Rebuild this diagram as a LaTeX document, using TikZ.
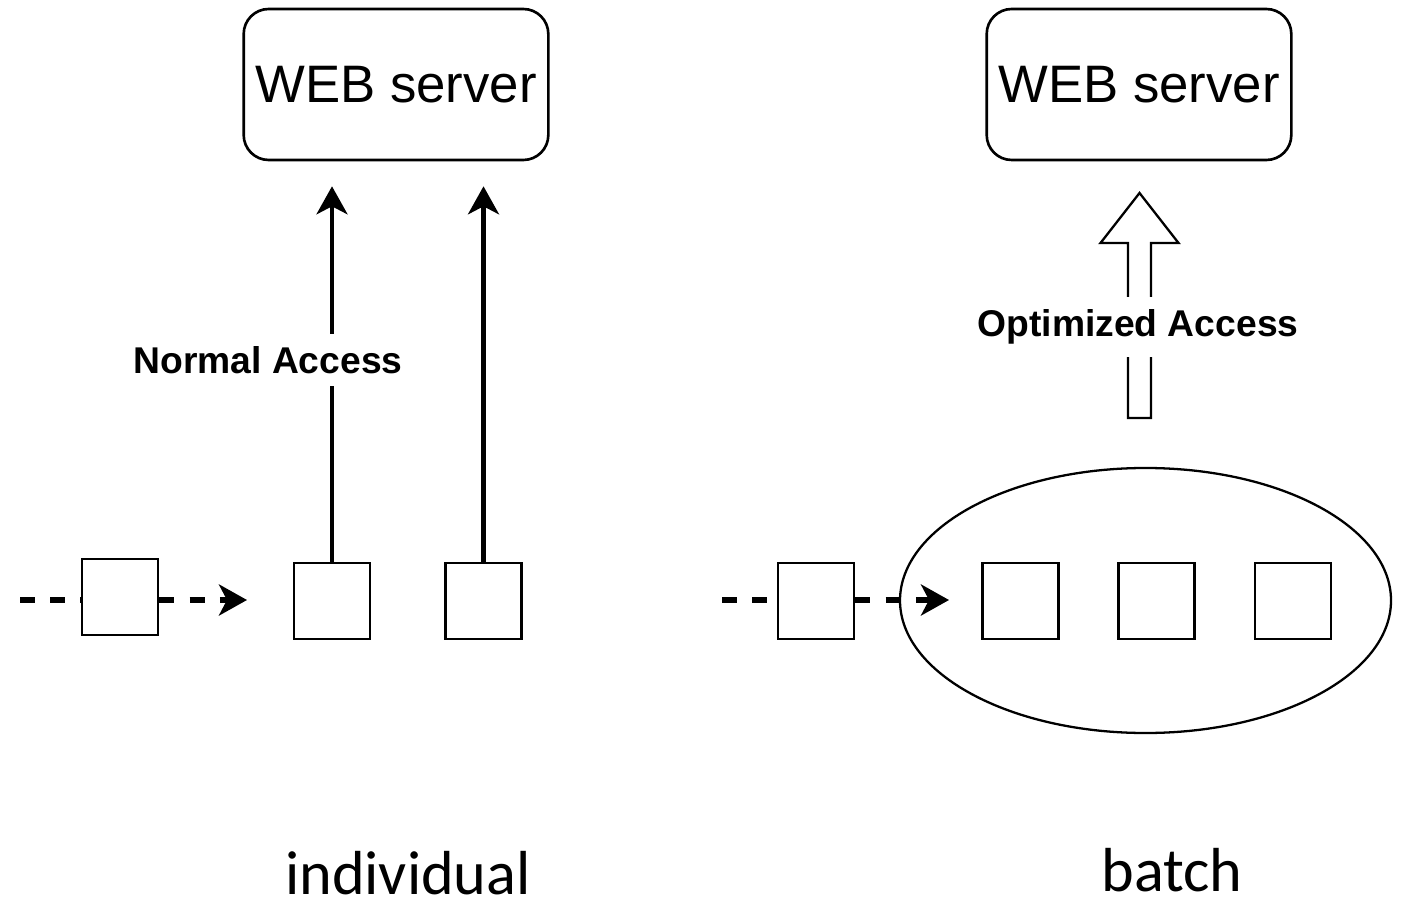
\documentclass[tikz,border=0pt]{standalone}
\usepackage{fontspec}
\setmainfont{Liberation Sans}
\newfontfamily\capfont{Carlito}
\usetikzlibrary{shapes.geometric,arrows.meta}
\newcommand\sqSize{.76}
\newcommand\rowY{3.08}
\newcommand\feedY{3.09}
\newcommand\serverY{8.245}
\newcommand\shaftHalf{.115}

\tikzset{
  item/.style={draw, line width=.75pt, minimum size=\sqSize cm, inner sep=0pt},
  server/.style={draw, rounded corners=.25cm, line width=.75pt, minimum width=3.02cm,
    minimum height=1.51cm, font=\fontsize{15}{18}\selectfont},
  access/.style={fill=white, inner xsep=1.5pt, inner ysep=3.5pt, font=\bfseries\fontsize{10.6}{12}\selectfont},
  caption/.style={anchor=base, inner sep=0pt, font=\capfont\fontsize{17.7}{20}\selectfont},
  feed/.style={line width=1.5pt, dash pattern=on 4.3pt off 4.3pt},
  tipped/.style={-{Stealth[length=2.8mm, width=3.1mm, inset=.8mm]}},
}

\begin{document}
\begin{tikzpicture}
    \useasboundingbox (0,0) rectangle (14.01,9.09);

    %% servers
    \node[server] (webL) at (3.96,\serverY) {WEB server};
    \node[server] (webR) at (11.39,\serverY) {WEB server};

    %% individual side
    \node[item] (sqa) at (1.20,3.12) {};
    \node[item] (sqb) at (3.32,\rowY) {};
    \node[item] (sqc) at (4.835,\rowY) {};
    \coordinate (inL) at (0.20,\feedY);
    \coordinate (endL) at (2.47,\feedY);
    \draw[feed] (inL) -- (inL -| sqa.west);
    \draw[feed, tipped] (sqa.east |- inL) -- (endL);

    \foreach \Sq in {sqb,sqc}{
      \draw[line width=1.2pt, tipped, shorten >=.25cm] (\Sq.north) -- (\Sq.north |- webL.south);
    }
    \node[access] (normal) at (2.68,5.49) {Normal Access};

    %% batch side
    \node[ellipse, draw, line width=.65pt, minimum width=4.91cm, minimum height=2.65cm] (grp) at (11.455,3.085) {};
    \node[item] (sq0) at (8.16,\rowY) {};
    \foreach \Sq/\X in {sq1/10.205,sq2/11.565,sq3/12.93}{
      \node[item] (\Sq) at (\X,\rowY) {};
    }
    \coordinate (inR) at (7.22,\feedY);
    \coordinate (endR) at (9.49,\feedY);
    \draw[feed] (inR) -- (inR -| sq0.west);
    \draw[feed, tipped] (sq0.east |- inR) -- (endR);

    %% block arrow for batch access
    \coordinate (blk) at (11.395,4.91);
    \draw[line width=.65pt, line join=miter] (blk) ++(-\shaftHalf,0) -- ++(0,1.75) -- ++(-.275,0)
      -- ++(.39,.5) -- ++(.39,-.5) -- ++(-.275,0) -- ++(0,-1.75) -- cycle;
    \node[access] (optim) at (11.38,5.82) {Optimized Access};

    %% captions
    \node[caption] (capL) at (4.08,0.15) {individual};
    \node[caption] (capR) at (11.72,0.18) {batch};
\end{tikzpicture}
\end{document}
